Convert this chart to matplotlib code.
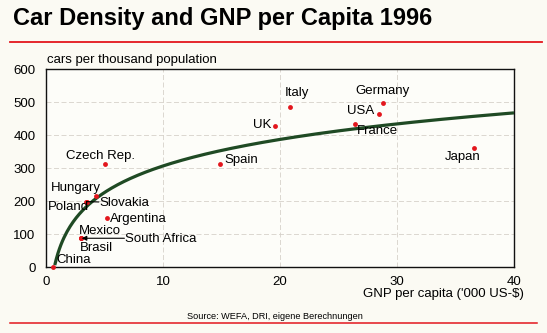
import numpy as np
import matplotlib.pyplot as plt

plt.rcParams['font.family'] = ['Liberation Sans', 'DejaVu Sans']

# GNP per capita ('000 US-$) and cars per thousand population, 1996
countries = ['China', 'Czech Rep.', 'Hungary', 'Poland', 'Slovakia', 'Argentina',
             'Mexico', 'Brasil', 'South Africa', 'Spain', 'UK', 'Italy',
             'Germany', 'USA', 'France', 'Japan']
gnp = [0.57, 5.0, 4.27, 3.45, 3.5, 5.2, 2.96, 3.0, 2.98, 14.85, 19.55, 20.85,
       28.8, 28.5, 26.45, 36.6]
cars = [2, 314, 217, 199, 199, 148, 88, 90, 88, 314, 428, 486, 499, 466, 435, 361]

# logarithmic trend line: cars = a + b * ln(gnp)
trend_a = 40
trend_b = 116

# label placement (x, y, horizontal alignment)
label_pos = {
    'China': (0.9, 22, 'left'),
    'Czech Rep.': (1.7, 337, 'left'),
    'Hungary': (0.4, 241, 'left'),
    'Poland': (0.2, 184, 'left'),
    'Slovakia': (4.55, 196, 'left'),
    'Argentina': (5.5, 147, 'left'),
    'Mexico': (2.85, 111, 'left'),
    'Brasil': (2.9, 58, 'left'),
    'South Africa': (6.75, 85, 'left'),
    'Spain': (15.25, 325, 'left'),
    'UK': (19.3, 430, 'right'),
    'Italy': (20.4, 527, 'left'),
    'Germany': (26.4, 535, 'left'),
    'USA': (28.05, 474, 'right'),
    'France': (26.55, 414, 'left'),
    'Japan': (34.1, 334, 'left'),
}

W, H = 547, 333
bg = '#fbfaf3'
fig = plt.figure(figsize=(W / 100, H / 100), dpi=100, facecolor=bg)
ax = fig.add_axes([46 / W, 1 - 267.3 / H, 468 / W, 198 / H])
ax.set_facecolor('#fdfdf9')

ax.set_xlim(0, 40)
ax.set_ylim(0, 600)
ax.set_xticks(range(0, 41, 10))
ax.set_yticks(range(0, 601, 100))
ax.tick_params(length=0, labelsize=9.5, pad=7.5)
ax.tick_params(axis='x', pad=6.5)
ax.grid(True, color='#d6d1ca', linewidth=0.6, linestyle=(0, (6, 3)))
ax.set_axisbelow(True)
for s in ax.spines.values():
    s.set_linewidth(1.0)
    s.set_color('#111111')

xs = np.linspace(0.75, 40, 300)
ax.plot(xs, trend_a + trend_b * np.log(xs), color='#1f4a24', linewidth=2.3,
        solid_capstyle='butt', zorder=3)
ax.plot(gnp, cars, 'o', color='#e3161d', markersize=3.5, markeredgewidth=0,
        zorder=4, clip_on=False)

for name, (lx, ly, ha) in label_pos.items():
    ax.text(lx, ly, name, ha=ha, va='center', fontsize=9.5, zorder=5)

# connector lines for crowded labels
ax.plot([4.5, 3.5], [198, 199], color='black', linewidth=0.8, zorder=4)
ax.annotate('', xy=(3.05, 88), xytext=(6.7, 88),
            arrowprops=dict(arrowstyle='-|>', color='black', lw=0.8,
                            mutation_scale=7, shrinkA=0, shrinkB=0), zorder=4)

fig.text(12.6 / W, 1 - 24.6 / H, 'Car Density and GNP per Capita 1996',
         fontsize=17, fontweight='bold', ha='left', va='baseline')
fig.add_artist(plt.Line2D([10 / W, 542 / W], [1 - 41.7 / H] * 2,
                          color='#e3161d', linewidth=1.3))
fig.text(46.7 / W, 1 - 59.5 / H, 'cars per thousand population',
         fontsize=9.5, ha='left', va='center')
fig.text(524 / W, 1 - 294 / H, "GNP per capita ('000 US-$)",
         fontsize=9.5, ha='right', va='center')
fig.text(275 / W, 1 - 316.5 / H, 'Source: WEFA, DRI, eigene Berechnungen',
         fontsize=6.6, ha='center', va='center')
fig.add_artist(plt.Line2D([10 / W, 537 / W], [1 - 323.3 / H] * 2,
                          color='#e3161d', linewidth=1.1))

fig.savefig('out.png', dpi=100, facecolor=bg)
